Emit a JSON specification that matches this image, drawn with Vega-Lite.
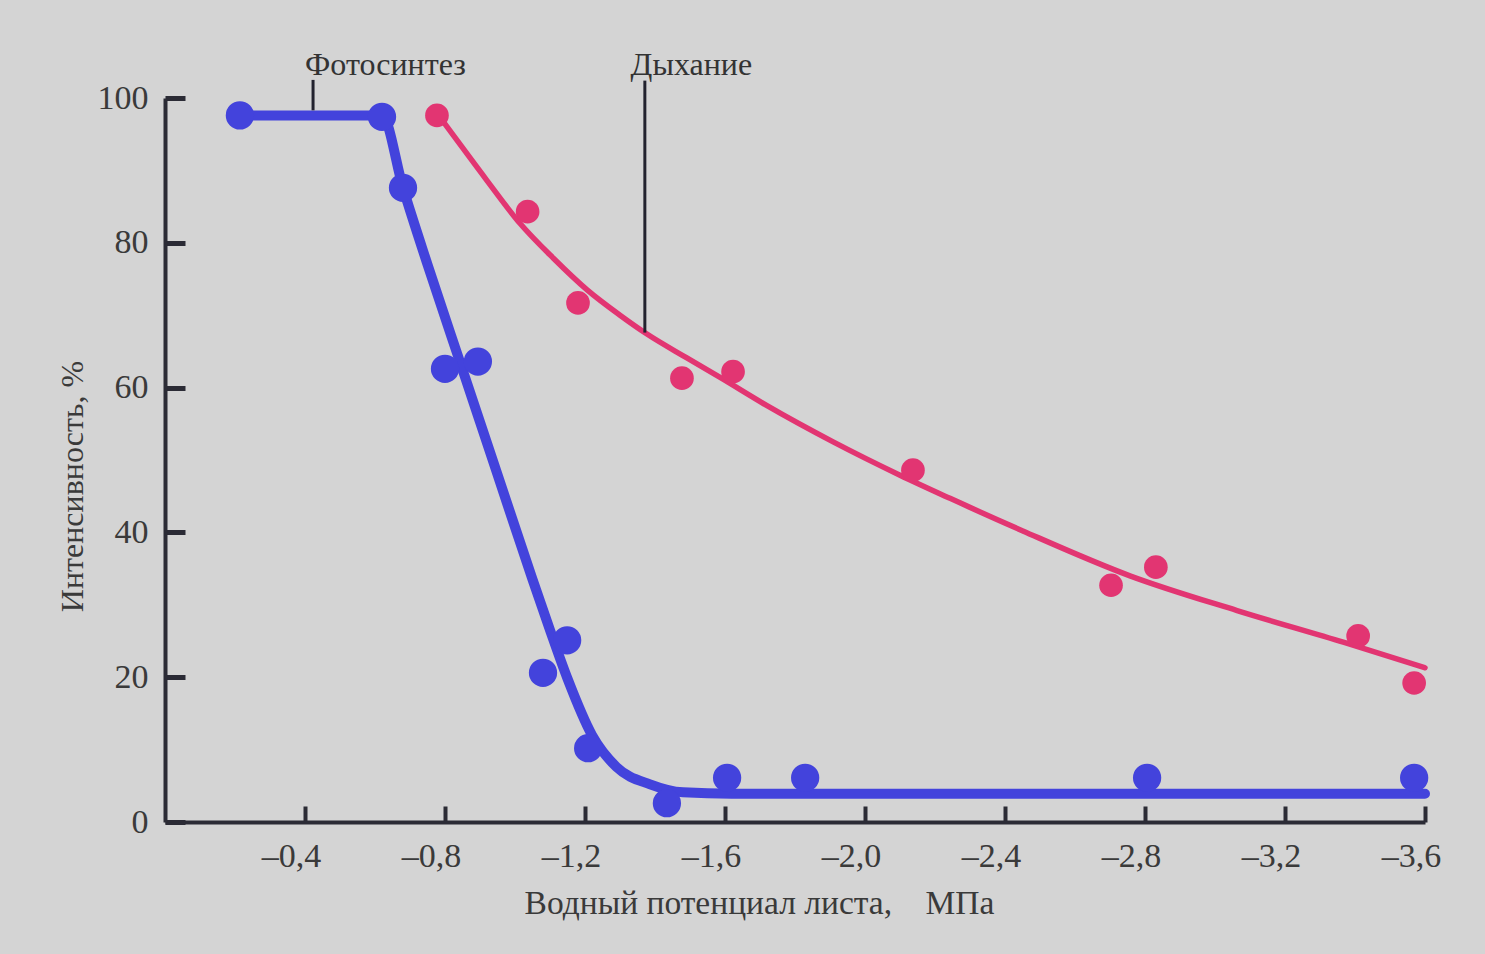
{
  "$schema": "https://vega.github.io/schema/vega-lite/v6.json",
  "width": 1260,
  "height": 724,
  "autosize": "none",
  "padding": {"left": 165, "top": 98, "right": 60, "bottom": 132},
  "background": "#d4d4d4",
  "config": {"view": {"stroke": null}},
  "datasets": {
    "photoCurve": [
      {"x": -0.214, "y": 97.6}, {"x": -0.62, "y": 97.6}, {"x": -0.68, "y": 87.6},
      {"x": -0.75, "y": 77}, {"x": -0.85, "y": 62.5}, {"x": -0.95, "y": 48},
      {"x": -1.05, "y": 33.5}, {"x": -1.1, "y": 26.5}, {"x": -1.15, "y": 19.8},
      {"x": -1.22, "y": 12}, {"x": -1.29, "y": 7.6}, {"x": -1.386, "y": 5.2},
      {"x": -1.48, "y": 4.1}, {"x": -1.62, "y": 3.9}, {"x": -3.6, "y": 3.9}
    ],
    "respCurve": [
      {"x": -0.777, "y": 97.9}, {"x": -0.823, "y": 94.9}, {"x": -0.92, "y": 88.6},
      {"x": -1.014, "y": 82.7}, {"x": -1.109, "y": 77.9}, {"x": -1.206, "y": 73.5},
      {"x": -1.3, "y": 70.0}, {"x": -1.377, "y": 67.4}, {"x": -1.491, "y": 64.1},
      {"x": -1.586, "y": 61.4}, {"x": -1.72, "y": 57.5}, {"x": -1.909, "y": 52.5},
      {"x": -2.1, "y": 47.9}, {"x": -2.243, "y": 44.7}, {"x": -2.451, "y": 40.2},
      {"x": -2.757, "y": 34.0}, {"x": -3.063, "y": 29.2}, {"x": -3.369, "y": 24.8},
      {"x": -3.6, "y": 21.3}
    ],
    "photoPoints": [
      {"x": -0.214, "y": 97.6}, {"x": -0.62, "y": 97.4}, {"x": -0.68, "y": 87.6},
      {"x": -0.8, "y": 62.6}, {"x": -0.894, "y": 63.6}, {"x": -1.08, "y": 20.6},
      {"x": -1.149, "y": 25.1}, {"x": -1.209, "y": 10.2}, {"x": -1.434, "y": 2.6},
      {"x": -1.606, "y": 6.1}, {"x": -1.829, "y": 6.1}, {"x": -2.806, "y": 6.1},
      {"x": -3.569, "y": 6.1}
    ],
    "respPoints": [
      {"x": -0.777, "y": 97.6}, {"x": -1.036, "y": 84.3}, {"x": -1.18, "y": 71.7},
      {"x": -1.477, "y": 61.3}, {"x": -1.623, "y": 62.2}, {"x": -2.137, "y": 48.6},
      {"x": -2.703, "y": 32.7}, {"x": -2.831, "y": 35.2}, {"x": -3.409, "y": 25.7},
      {"x": -3.569, "y": 19.2}
    ],
    "pointers": [
      {"x": -0.423, "y": 102.5, "y2": 98.3},
      {"x": -1.371, "y": 102.4, "y2": 67.6}
    ],
    "labels": [
      {"x": -0.63, "y": 103.2, "text": "Фотосинтез"},
      {"x": -1.504, "y": 103.2, "text": "Дыхание"}
    ]
  },
  "encoding": {
    "x": {
      "field": "x",
      "type": "quantitative",
      "scale": {"domain": [-3.6, 0], "reverse": true, "nice": false, "zero": false},
      "axis": {
        "title": "Водный потенциал листа,\u00a0\u00a0\u00a0\u00a0МПа",
        "values": [-0.4, -0.8, -1.2, -1.6, -2.0, -2.4, -2.8, -3.2, -3.6],
        "labelExpr": "'–' + replace(format(abs(datum.value), '.1f'), '.', ',')",
        "grid": false,
        "domainColor": "#2b2b35",
        "domainWidth": 4,
        "tickColor": "#2b2b35",
        "tickWidth": 4,
        "tickSize": -16,
        "labelFont": "Liberation Serif",
        "labelFontSize": 34,
        "labelColor": "#3a3a3a",
        "labelBaseline": "alphabetic",
        "labelPadding": 60,
        "labelOffset": -14,
        "labelFlush": false,
        "labelOverlap": false,
        "titleFont": "Liberation Serif",
        "titleFontSize": 33.5,
        "titleFontWeight": "normal",
        "titleColor": "#3a3a3a",
        "titleX": 594,
        "titleY": 91,
        "titleAlign": "center",
        "titleBaseline": "alphabetic"
      }
    },
    "y": {
      "field": "y",
      "type": "quantitative",
      "scale": {"domain": [0, 100], "nice": false},
      "axis": {
        "title": "Интенсивность, %",
        "values": [0, 20, 40, 60, 80, 100],
        "grid": false,
        "domainColor": "#2b2b35",
        "domainWidth": 4,
        "tickColor": "#2b2b35",
        "tickWidth": 5,
        "tickSize": -20,
        "labelFont": "Liberation Serif",
        "labelFontSize": 34,
        "labelColor": "#3a3a3a",
        "labelPadding": 37,
        "labelFlush": false,
        "labelOverlap": false,
        "titleFont": "Liberation Serif",
        "titleFontSize": 32,
        "titleFontWeight": "normal",
        "titleColor": "#3a3a3a",
        "titleX": -83,
        "titleY": 388,
        "titleAlign": "center",
        "titleBaseline": "alphabetic"
      }
    }
  },
  "layer": [
    {
      "data": {"name": "photoCurve"},
      "mark": {"type": "line", "color": "#4343dc", "strokeWidth": 10, "interpolate": "monotone", "strokeCap": "round"},
      "encoding": {"order": {"field": "x", "sort": "descending"}}
    },
    {
      "data": {"name": "respCurve"},
      "mark": {"type": "line", "color": "#e23572", "strokeWidth": 5.5, "interpolate": "monotone", "strokeCap": "round"},
      "encoding": {"order": {"field": "x", "sort": "descending"}}
    },
    {
      "data": {"name": "photoPoints"},
      "mark": {"type": "point", "filled": true, "shape": "circle", "size": 800, "color": "#4343dc", "opacity": 1}
    },
    {
      "data": {"name": "respPoints"},
      "mark": {"type": "point", "filled": true, "shape": "circle", "size": 560, "color": "#e23572", "opacity": 1}
    },
    {
      "data": {"name": "pointers"},
      "mark": {"type": "rule", "color": "#22222e", "strokeWidth": 3},
      "encoding": {"y2": {"field": "y2"}}
    },
    {
      "data": {"name": "labels"},
      "mark": {"type": "text", "font": "Liberation Serif", "fontSize": 32, "color": "#333333", "align": "center", "baseline": "alphabetic"},
      "encoding": {"text": {"field": "text"}}
    }
  ]
}
